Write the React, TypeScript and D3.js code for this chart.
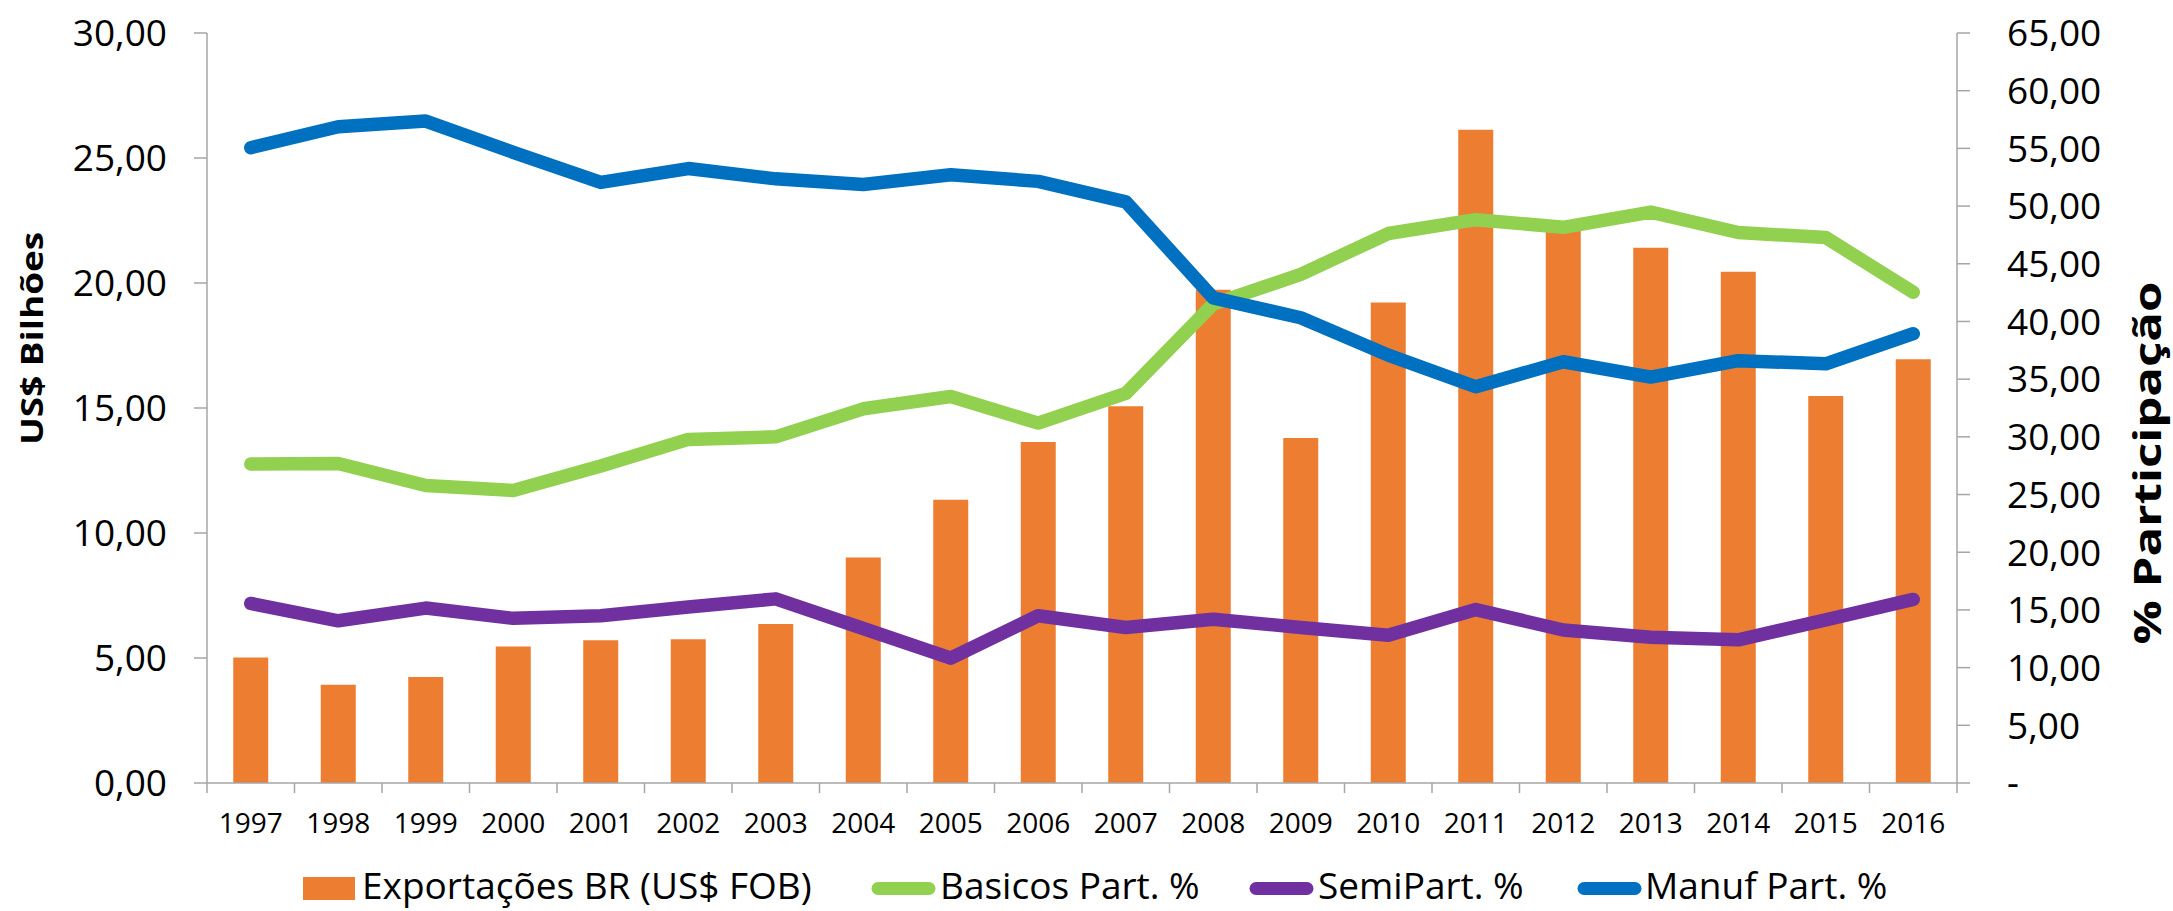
import React from 'react';
import * as d3 from 'd3';

const years = ['1997','1998','1999','2000','2001','2002','2003','2004','2005','2006','2007','2008','2009','2010','2011','2012','2013','2014','2015','2016'];
const exportacoes = [5.02, 3.93, 4.24, 5.46, 5.71, 5.75, 6.36, 9.02, 11.33, 13.64, 15.07, 19.73, 13.8, 19.22, 26.13, 22.3, 21.41, 20.45, 15.48, 16.95];
const basicos = [27.65, 27.69, 25.79, 25.35, 27.47, 29.78, 30.0, 32.43, 33.5, 31.19, 33.76, 41.51, 44.08, 47.62, 48.82, 48.16, 49.48, 47.71, 47.27, 42.53];
const semi = [15.56, 14.06, 15.16, 14.27, 14.5, 15.25, 15.96, 13.39, 10.82, 14.5, 13.48, 14.19, 13.48, 12.81, 15.03, 13.26, 12.64, 12.41, 14.14, 15.91];
const manuf = [55.06, 56.88, 57.37, 54.66, 52.05, 53.25, 52.36, 51.87, 52.72, 52.14, 50.37, 42.04, 40.32, 37.08, 34.34, 36.51, 35.18, 36.6, 36.33, 38.94];
const leftTicks = [0, 5, 10, 15, 20, 25, 30];
const rightTicks = [0, 5, 10, 15, 20, 25, 30, 35, 40, 45, 50, 55, 60, 65];

const seriesNames = ['Exportações BR (US$ FOB)', 'Basicos Part. %', 'SemiPart. %', 'Manuf Part. %'];
const COLORS = { bar: '#ED7D31', basicos: '#92D050', semi: '#7030A0', manuf: '#0070C0' };

const W = 2173, H = 911;
const L = 207, R = 1957, T = 33, B = 783;
const FONT = "'Open Sans', 'Noto Sans', sans-serif";
const AXIS = '#A6A6A6';

const fmt = (v: number) => v.toFixed(2).replace('.', ',');

export default function App() {
  const x = d3.scaleBand<string>().domain(years).range([L, R]).padding(0);
  const yL = d3.scaleLinear().domain([0, 30]).range([B, T]);
  const yR = d3.scaleLinear().domain([0, 65]).range([B, T]);
  const step = x.step();
  const barW = step * 0.4;
  const cx = (d: string) => (x(d) as number) + step / 2;

  const line = d3.line<number>().x((_, i) => cx(years[i])).y((v) => yR(v));

  const lines = [
    { data: basicos, color: COLORS.basicos },
    { data: semi, color: COLORS.semi },
    { data: manuf, color: COLORS.manuf },
  ];

  const legend = [
    { type: 'rect', color: COLORS.bar, sx: 303, tx: 362, label: seriesNames[0] },
    { type: 'line', color: COLORS.basicos, sx: 872, tx: 940, label: seriesNames[1] },
    { type: 'line', color: COLORS.semi, sx: 1250, tx: 1318, label: seriesNames[2] },
    { type: 'line', color: COLORS.manuf, sx: 1578, tx: 1645, label: seriesNames[3] },
  ];

  return (
    <svg width={W} height={H} style={{ position: 'absolute', left: 0, top: 0, display: 'block', background: '#fff' }} fontFamily={FONT}>
      <rect x={0} y={0} width={W} height={H} fill="#fff" />
      {years.map((yr, i) => (
        <rect key={yr} x={cx(yr) - barW / 2} y={yL(exportacoes[i])} width={barW} height={B - yL(exportacoes[i])} fill={COLORS.bar} />
      ))}
      <g stroke={AXIS} strokeWidth={1.5} fill="none">
        <line x1={L} y1={T} x2={L} y2={B} />
        <line x1={R} y1={T} x2={R} y2={B} />
        <line x1={L} y1={B} x2={R} y2={B} />
        {leftTicks.map((t) => (
          <line key={'lt' + t} x1={L - 13} x2={L} y1={yL(t)} y2={yL(t)} />
        ))}
        {rightTicks.map((t) => (
          <line key={'rt' + t} x1={R} x2={R + 13} y1={yR(t)} y2={yR(t)} />
        ))}
        {d3.range(years.length + 1).map((i) => (
          <line key={'xt' + i} x1={L + i * step} x2={L + i * step} y1={B} y2={B + 10} />
        ))}
      </g>
      {lines.map((l, k) => (
        <path key={k} d={line(l.data) as string} fill="none" stroke={l.color} strokeWidth={13.5} strokeLinecap="round" strokeLinejoin="round" />
      ))}
      {leftTicks.map((t) => (
        <text key={'ll' + t} x={167} y={yL(t)} dy="0.36em" textAnchor="end" fontSize={37} fill="#000">{fmt(t)}</text>
      ))}
      {rightTicks.map((t) => (
        <text key={'rl' + t} x={2007} y={yR(t)} dy="0.36em" textAnchor="start" fontSize={37} fill="#000">{t === 0 ? '-' : fmt(t)}</text>
      ))}
      {years.map((yr) => (
        <text key={'xl' + yr} x={cx(yr)} y={833} textAnchor="middle" fontSize={28} fill="#000">{yr}</text>
      ))}
      <text transform="translate(43,338.5) rotate(-90)" textAnchor="middle" fontSize={31} fontWeight="bold" fill="#000" textLength={213} lengthAdjust="spacingAndGlyphs">US$ Bilhões</text>
      <text transform="translate(2161,463) rotate(-90)" textAnchor="middle" fontSize={38} fontWeight="bold" fill="#000" textLength={363} lengthAdjust="spacingAndGlyphs">% Participação</text>
      {legend.map((it, k) => (
        <g key={'lg' + k}>
          {it.type === 'rect' ? (
            <rect x={it.sx} y={877} width={52} height={23} fill={it.color} />
          ) : (
            <line x1={it.sx + 6} x2={it.sx + 57} y1={888.5} y2={888.5} stroke={it.color} strokeWidth={13} strokeLinecap="round" />
          )}
          <text x={it.tx} y={899} fontSize={37} fill="#000">{it.label}</text>
        </g>
      ))}
    </svg>
  );
}
